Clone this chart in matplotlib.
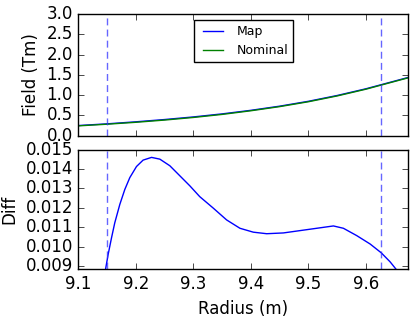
import matplotlib
matplotlib.use("Agg")
import matplotlib.pyplot as plt
from matplotlib.ticker import FormatStrFormatter

plt.style.use("classic")
plt.rcParams["font.family"] = "DejaVu Sans"

# field along radius
radius = [9.10, 9.15, 9.20, 9.25, 9.30, 9.35, 9.40, 9.45, 9.50, 9.55, 9.60, 9.65, 9.675]
field_map = [0.25, 0.292, 0.342, 0.398, 0.462, 0.537, 0.625, 0.727, 0.847, 0.99, 1.155, 1.345, 1.44]
field_nominal = [0.242, 0.283, 0.330, 0.385, 0.449, 0.524, 0.614, 0.716, 0.836, 0.979, 1.145, 1.336, 1.431]

# map minus nominal
diff_r = [9.147, 9.1516, 9.1575, 9.1632, 9.172, 9.1807, 9.1894, 9.201, 9.2125, 9.2272,
          9.2416, 9.259, 9.2765, 9.294, 9.311, 9.3345, 9.3578, 9.381, 9.4042, 9.4275,
          9.4565, 9.4855, 9.5146, 9.5436, 9.561, 9.5843, 9.6075, 9.6267, 9.6423, 9.654]
diff = [0.00881, 0.00959, 0.01045, 0.01123, 0.01218, 0.01295, 0.01356, 0.01413, 0.01446, 0.0146,
        0.01451, 0.01417, 0.01365, 0.01313, 0.01258, 0.01199, 0.01138, 0.01095, 0.01075, 0.01067,
        0.01071, 0.01083, 0.01095, 0.01107, 0.01095, 0.01057, 0.01014, 0.00969, 0.00922, 0.00879]

limits = [9.149, 9.627]

fig = plt.figure(figsize=(4.15, 3.17), dpi=100)
fig.patch.set_facecolor("white")
ax1 = fig.add_axes([0.189, 0.572, 0.795, 0.384])
ax2 = fig.add_axes([0.189, 0.150, 0.795, 0.378], sharex=ax1)

ax1.plot(radius, field_map, color="b", lw=1, label="Map")
ax1.plot(radius, field_nominal, color="g", lw=1, label="Nominal")
ax1.set_ylim(0, 3)
ax1.set_yticks([0, 0.5, 1.0, 1.5, 2.0, 2.5, 3.0])
ax1.yaxis.set_major_formatter(FormatStrFormatter("%.1f"))
ax1.set_ylabel("Field (Tm)")
ax1.legend(loc="upper center", fontsize=9, handlelength=2.2)
plt.setp(ax1.get_xticklabels(), visible=False)

ax2.plot(diff_r, diff, color="b", lw=1)
ax2.set_ylim(0.00883, 0.015)
ax2.set_yticks([0.009, 0.010, 0.011, 0.012, 0.013, 0.014, 0.015])
ax2.yaxis.set_major_formatter(FormatStrFormatter("%.3f"))
ax2.set_ylabel("Diff")
ax2.set_xlabel("Radius (m)")
ax2.set_xlim(9.1, 9.674)
ax2.set_xticks([9.1, 9.2, 9.3, 9.4, 9.5, 9.6])

for ax in (ax1, ax2):
    for r in limits:
        ax.axvline(r, color="#3333ff", ls="--", dashes=(5, 3), lw=1, alpha=0.75)

fig.savefig("out.png", dpi=100, facecolor="white")
